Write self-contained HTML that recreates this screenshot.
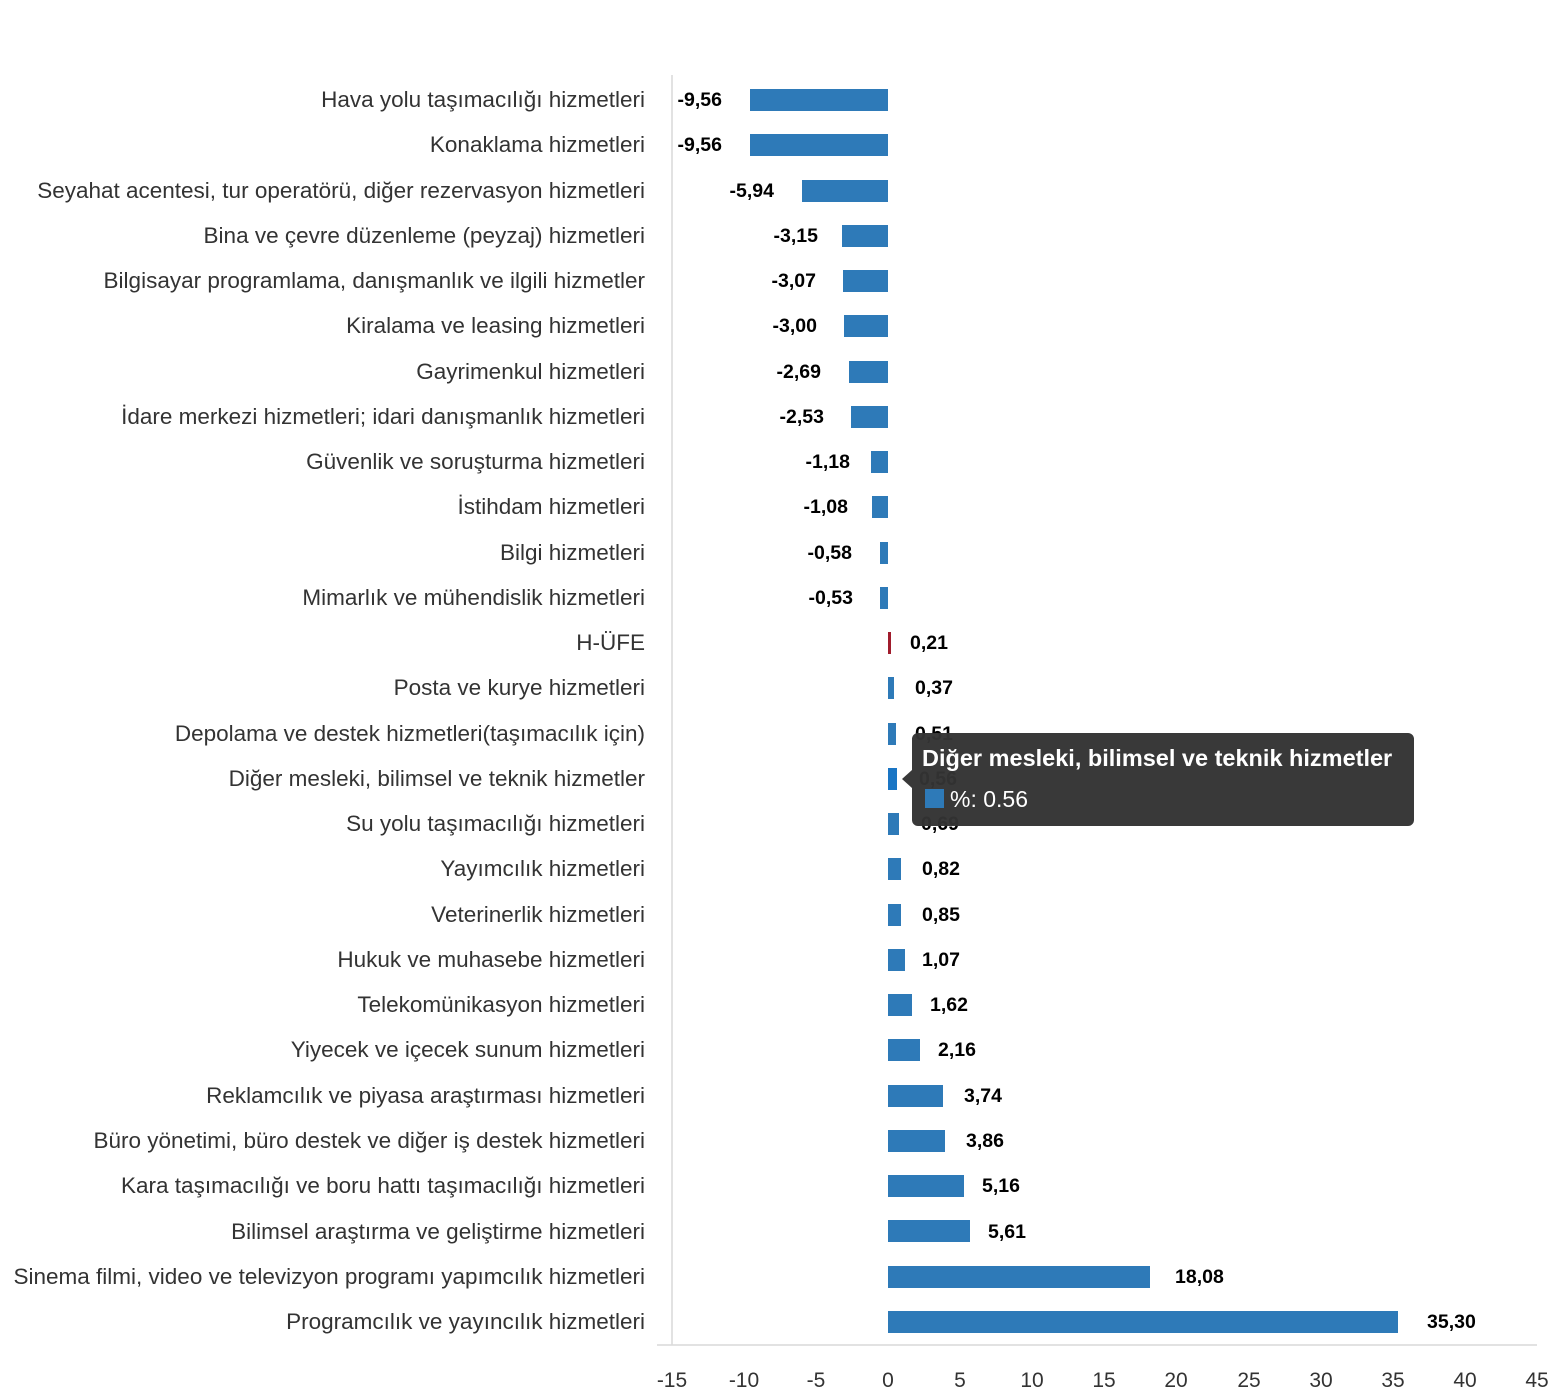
<!DOCTYPE html>
<html><head><meta charset="utf-8"><style>
html,body{margin:0;padding:0;background:#fff;}
svg{display:block;}
.l{font-family:"Liberation Sans",sans-serif;font-size:22.5px;fill:#333;text-anchor:end;}
.v{font-family:"Liberation Sans",sans-serif;font-size:19.5px;font-weight:bold;fill:#000;}
.t{font-family:"Liberation Sans",sans-serif;font-size:21px;fill:#333;text-anchor:middle;}
</style></head><body>
<svg width="1556" height="1400" viewBox="0 0 1556 1400" xmlns="http://www.w3.org/2000/svg">
<line x1="672" y1="75" x2="672" y2="1345" stroke="#d9d9d9" stroke-width="1.5"/>
<line x1="657" y1="1345" x2="1537" y2="1345" stroke="#d9d9d9" stroke-width="1.5"/>
<g>
<text class="t" x="672" y="1387">-15</text><text class="t" x="744" y="1387">-10</text><text class="t" x="816" y="1387">-5</text><text class="t" x="888" y="1387">0</text><text class="t" x="960" y="1387">5</text><text class="t" x="1032" y="1387">10</text><text class="t" x="1104" y="1387">15</text><text class="t" x="1176" y="1387">20</text><text class="t" x="1249" y="1387">25</text><text class="t" x="1321" y="1387">30</text><text class="t" x="1393" y="1387">35</text><text class="t" x="1465" y="1387">40</text><text class="t" x="1537" y="1387">45</text>
</g>
<g>
<text class="l" x="645" y="107">Hava yolu taşımacılığı hizmetleri</text>
<text class="l" x="645" y="152">Konaklama hizmetleri</text>
<text class="l" x="645" y="198">Seyahat acentesi, tur operatörü, diğer rezervasyon hizmetleri</text>
<text class="l" x="645" y="243">Bina ve çevre düzenleme (peyzaj) hizmetleri</text>
<text class="l" x="645" y="288">Bilgisayar programlama, danışmanlık ve ilgili hizmetler</text>
<text class="l" x="645" y="333">Kiralama ve leasing hizmetleri</text>
<text class="l" x="645" y="379">Gayrimenkul hizmetleri</text>
<text class="l" x="645" y="424">İdare merkezi hizmetleri; idari danışmanlık hizmetleri</text>
<text class="l" x="645" y="469">Güvenlik ve soruşturma hizmetleri</text>
<text class="l" x="645" y="514">İstihdam hizmetleri</text>
<text class="l" x="645" y="560">Bilgi hizmetleri</text>
<text class="l" x="645" y="605">Mimarlık ve mühendislik hizmetleri</text>
<text class="l" x="645" y="650">H-ÜFE</text>
<text class="l" x="645" y="695">Posta ve kurye hizmetleri</text>
<text class="l" x="645" y="741">Depolama ve destek hizmetleri(taşımacılık için)</text>
<text class="l" x="645" y="786">Diğer mesleki, bilimsel ve teknik hizmetler</text>
<text class="l" x="645" y="831">Su yolu taşımacılığı hizmetleri</text>
<text class="l" x="645" y="876">Yayımcılık hizmetleri</text>
<text class="l" x="645" y="922">Veterinerlik hizmetleri</text>
<text class="l" x="645" y="967">Hukuk ve muhasebe hizmetleri</text>
<text class="l" x="645" y="1012">Telekomünikasyon hizmetleri</text>
<text class="l" x="645" y="1057">Yiyecek ve içecek sunum hizmetleri</text>
<text class="l" x="645" y="1103">Reklamcılık ve piyasa araştırması hizmetleri</text>
<text class="l" x="645" y="1148">Büro yönetimi, büro destek ve diğer iş destek hizmetleri</text>
<text class="l" x="645" y="1193">Kara taşımacılığı ve boru hattı taşımacılığı hizmetleri</text>
<text class="l" x="645" y="1239">Bilimsel araştırma ve geliştirme hizmetleri</text>
<text class="l" x="645" y="1284">Sinema filmi, video ve televizyon programı yapımcılık hizmetleri</text>
<text class="l" x="645" y="1329">Programcılık ve yayıncılık hizmetleri</text>
</g>
<g fill="#2e7ab8">
<rect x="750" y="89" width="138" height="22"/>
<rect x="750" y="134" width="138" height="22"/>
<rect x="802" y="180" width="86" height="22"/>
<rect x="842" y="225" width="46" height="22"/>
<rect x="843" y="270" width="45" height="22"/>
<rect x="844" y="315" width="44" height="22"/>
<rect x="849" y="361" width="39" height="22"/>
<rect x="851" y="406" width="37" height="22"/>
<rect x="871" y="451" width="17" height="22"/>
<rect x="872" y="496" width="16" height="22"/>
<rect x="880" y="542" width="8" height="22"/>
<rect x="880" y="587" width="8" height="22"/>
<rect x="888" y="632" width="3" height="22" fill="#a01c2c"/>
<rect x="888" y="677" width="6" height="22"/>
<rect x="888" y="723" width="8" height="22"/>
<rect x="888" y="768" width="9" height="22" fill="#1a75c4"/>
<rect x="888" y="813" width="11" height="22"/>
<rect x="888" y="858" width="13" height="22"/>
<rect x="888" y="904" width="13" height="22"/>
<rect x="888" y="949" width="17" height="22"/>
<rect x="888" y="994" width="24" height="22"/>
<rect x="888" y="1039" width="32" height="22"/>
<rect x="888" y="1085" width="55" height="22"/>
<rect x="888" y="1130" width="57" height="22"/>
<rect x="888" y="1175" width="76" height="22"/>
<rect x="888" y="1220" width="82" height="22"/>
<rect x="888" y="1266" width="262" height="22"/>
<rect x="888" y="1311" width="510" height="22"/>
</g>
<g>
<text class="v" x="722" y="106" text-anchor="end">-9,56</text>
<text class="v" x="722" y="151" text-anchor="end">-9,56</text>
<text class="v" x="774" y="197" text-anchor="end">-5,94</text>
<text class="v" x="818" y="242" text-anchor="end">-3,15</text>
<text class="v" x="816" y="287" text-anchor="end">-3,07</text>
<text class="v" x="817" y="332" text-anchor="end">-3,00</text>
<text class="v" x="821" y="378" text-anchor="end">-2,69</text>
<text class="v" x="824" y="423" text-anchor="end">-2,53</text>
<text class="v" x="850" y="468" text-anchor="end">-1,18</text>
<text class="v" x="848" y="513" text-anchor="end">-1,08</text>
<text class="v" x="852" y="559" text-anchor="end">-0,58</text>
<text class="v" x="853" y="604" text-anchor="end">-0,53</text>
</g>
<g>
<text class="v" x="910" y="649">0,21</text>
<text class="v" x="915" y="694">0,37</text>
<text class="v" x="915" y="740">0,51</text>
<text class="v" x="919" y="785">0,56</text>
<text class="v" x="921" y="830">0,69</text>
<text class="v" x="922" y="875">0,82</text>
<text class="v" x="922" y="921">0,85</text>
<text class="v" x="922" y="966">1,07</text>
<text class="v" x="930" y="1011">1,62</text>
<text class="v" x="938" y="1056">2,16</text>
<text class="v" x="964" y="1102">3,74</text>
<text class="v" x="966" y="1147">3,86</text>
<text class="v" x="982" y="1192">5,16</text>
<text class="v" x="988" y="1238">5,61</text>
<text class="v" x="1175" y="1283">18,08</text>
<text class="v" x="1427" y="1328">35,30</text>
</g>
<g>
<path d="M918 733 H1408 a6 6 0 0 1 6 6 V820 a6 6 0 0 1 -6 6 H918 a6 6 0 0 1 -6 -6 V788 L902 779 L912 770 V739 a6 6 0 0 1 6 -6 Z" fill="#333" fill-opacity="0.97"/>
<text x="922" y="766" style="font-family:'Liberation Sans',sans-serif;font-size:23.5px;font-weight:bold;fill:#fff">Diğer mesleki, bilimsel ve teknik hizmetler</text>
<rect x="925" y="789" width="19" height="19" fill="#2e7ab8"/>
<text x="950" y="807" style="font-family:'Liberation Sans',sans-serif;font-size:23px;fill:#fff">%: 0.56</text>
</g>
</svg>
</body></html>
